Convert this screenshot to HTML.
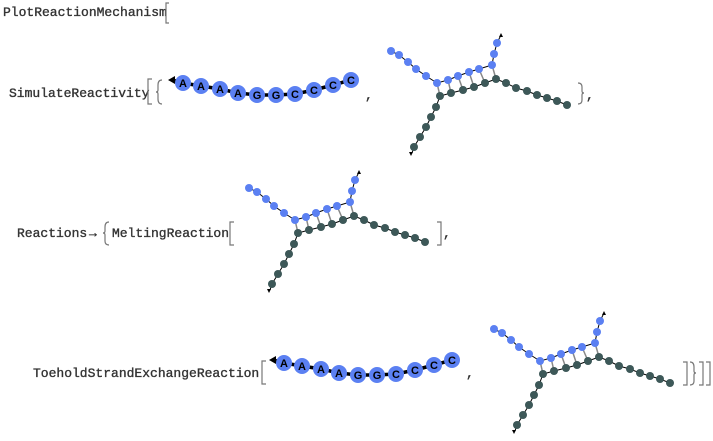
<!DOCTYPE html>
<html><head><meta charset="utf-8"><style>
html,body{margin:0;padding:0;background:#fff;}
svg{display:block;}
.t{font-family:"Liberation Mono",monospace;font-size:13px;fill:#333;stroke:#333;stroke-width:0.35;}
.b{fill:none;stroke:#777;stroke-width:1.2;}
.nl{font-family:"Liberation Sans",sans-serif;font-weight:bold;font-size:11px;fill:#000;text-anchor:middle;}
.ns{font-family:"Liberation Sans",sans-serif;font-size:3px;fill:#000;text-anchor:middle;}
</style></head><body>
<svg width="713" height="441" viewBox="0 0 713 441" xmlns="http://www.w3.org/2000/svg">
<defs>
<g id="lin">
  <polyline points="172,80 183,83 201,86 220,89 238,93 257,95 276,95 295,94 314,90 333,85 351,80" fill="none" stroke="#000" stroke-width="3.5"/>
  <polygon points="168,80 175,76 175,84" fill="#000"/>
  <g fill="#5b80f2">
    <circle cx="183" cy="83" r="8"/><circle cx="201" cy="86" r="8"/><circle cx="220" cy="89" r="8"/><circle cx="238" cy="93" r="8"/><circle cx="257" cy="95" r="8"/><circle cx="276" cy="95" r="8"/><circle cx="295" cy="94" r="8"/><circle cx="314" cy="90" r="8"/><circle cx="333" cy="85" r="8"/><circle cx="351" cy="80" r="8"/>
  </g>
  <text class="nl" x="183" y="87">A</text><text class="nl" x="201" y="90">A</text><text class="nl" x="220" y="93">A</text><text class="nl" x="238" y="97">A</text><text class="nl" x="257" y="99">G</text><text class="nl" x="276" y="99">G</text><text class="nl" x="295" y="98">C</text><text class="nl" x="314" y="94">C</text><text class="nl" x="333" y="89">C</text><text class="nl" x="351" y="84">C</text>
</g>
<g id="cx">
  <g stroke="#888" stroke-width="1.5">
    <line x1="437" y1="83" x2="440" y2="96"/><line x1="448" y1="80" x2="451" y2="93"/><line x1="458" y1="76" x2="463" y2="90"/><line x1="469" y1="72" x2="474" y2="87"/><line x1="479" y1="69" x2="485" y2="83"/><line x1="492" y1="65" x2="496" y2="79"/>
  </g>
  <polyline points="391,51 399,55 408,62 416,69 426,76 437,83 448,80 458,76 469,72 479,69 492,65 494,54 497,43 501,35" fill="none" stroke="#000" stroke-width="1"/>
  <polyline points="412,153 414,147 420,137 426,127 431,117 436,107 440,96 451,93 463,90 474,87 485,83 496,79 506,83 516,88 527,91 537,95 547,98 557,101 567,105" fill="none" stroke="#000" stroke-width="1"/>
  <polygon points="501,33 499,37 503,37" fill="#000"/>
  <polygon points="411,156 409,152 413,152" fill="#000"/>
  <g fill="#5b80f2">
    <circle cx="391" cy="51" r="4"/><circle cx="399" cy="55" r="4"/><circle cx="408" cy="62" r="4"/><circle cx="416" cy="69" r="4"/><circle cx="426" cy="76" r="4"/><circle cx="437" cy="83" r="4"/><circle cx="448" cy="80" r="4"/><circle cx="458" cy="76" r="4"/><circle cx="469" cy="72" r="4"/><circle cx="479" cy="69" r="4"/><circle cx="492" cy="65" r="4"/><circle cx="494" cy="54" r="4"/><circle cx="497" cy="43" r="4"/>
  </g>
  <g fill="#3d5858">
    <circle cx="414" cy="147" r="4"/><circle cx="420" cy="137" r="4"/><circle cx="426" cy="127" r="4"/><circle cx="431" cy="117" r="4"/><circle cx="436" cy="107" r="4"/><circle cx="440" cy="96" r="4"/><circle cx="451" cy="93" r="4"/><circle cx="463" cy="90" r="4"/><circle cx="474" cy="87" r="4"/><circle cx="485" cy="83" r="4"/><circle cx="496" cy="79" r="4"/><circle cx="506" cy="83" r="4"/><circle cx="516" cy="88" r="4"/><circle cx="527" cy="91" r="4"/><circle cx="537" cy="95" r="4"/><circle cx="547" cy="98" r="4"/><circle cx="557" cy="101" r="4"/><circle cx="567" cy="105" r="4"/>
  </g>
</g>
</defs>

<text class="t" x="3" y="16">PlotReactionMechanism</text>
<polyline class="b" points="169,3 166,3 166,23 169,23"/>

<text class="t" x="9" y="97">SimulateReactivity</text>
<polyline class="b" points="152,79 148,79 148,104 152,104"/>
<path class="b" d="M162,80 Q158,80 158,85 L158,90 Q158,92 156,92 Q158,92 158,94 L158,99 Q158,104 162,104"/>
<use href="#lin"/>
<text class="t" x="365" y="99">,</text>
<use href="#cx"/>
<path class="b" d="M578,83 Q582,83 582,87 L582,91 Q582,93 584,93 Q582,93 582,95 L582,100 Q582,104 578,104"/>
<text class="t" x="586" y="99">,</text>

<text class="t" x="17" y="237">Reactions</text>
<text class="t" x="89" y="237">→</text>
<path class="b" d="M109,222 Q105,222 105,227 L105,231 Q105,233 103,233 Q105,233 105,235 L105,241 Q105,245 109,245"/>
<text class="t" x="112" y="237">MeltingReaction</text>
<polyline class="b" points="234,222 230,222 230,245 234,245"/>
<use href="#cx" transform="translate(-142,137)"/>
<polyline class="b" points="437,222 441,222 441,245 437,245"/>
<text class="t" x="443" y="237">,</text>

<text class="t" x="33" y="377">ToeholdStrandExchangeReaction</text>
<polyline class="b" points="266,361 262,361 262,384 266,384"/>
<use href="#lin" transform="translate(101,280)"/>
<text class="t" x="466" y="377">,</text>
<use href="#cx" transform="translate(103,278)"/>
<polyline class="b" points="683,362 687,362 687,385 683,385"/>
<path class="b" d="M690,362 Q694,362 694,367 L694,371 Q694,373 696,373 Q694,373 694,375 L694,381 Q694,385 690,385"/>
<polyline class="b" points="699,362 703,362 703,385 699,385"/>
<polyline class="b" points="706,362 710,362 710,385 706,385"/>
</svg>
</body></html>
